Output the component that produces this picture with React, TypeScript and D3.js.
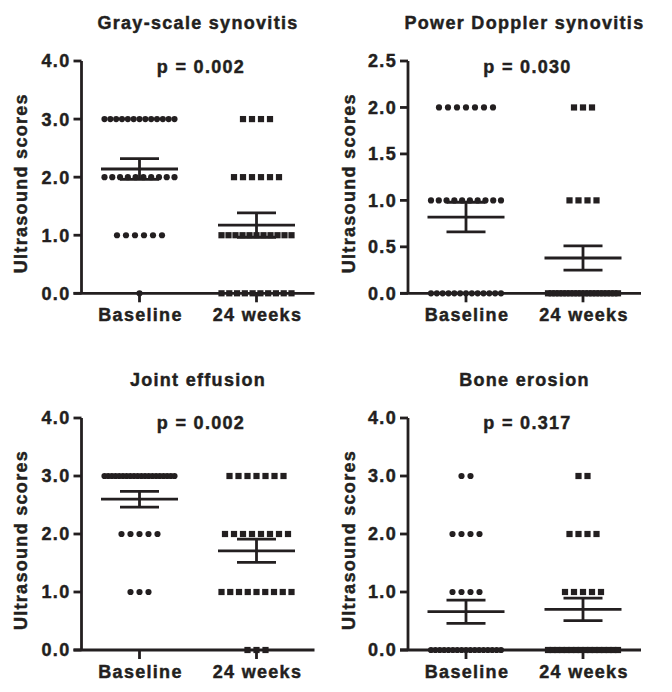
import React from "react";
import * as d3 from "d3";

const W = 672;
const H = 692;

const titles = ["Gray-scale synovitis", "Power Doppler synovitis", "Joint effusion", "Bone erosion"];
const pLabels = ["p = 0.002", "p = 0.030", "p = 0.002", "p = 0.317"];
const yMax = [4, 2.5, 4, 4];
const yStep = [1, 0.5, 1, 1];
const categories = ["Baseline", "24 weeks"];
const yLabel = "Ultrasound scores";

// number of patients at score 0, 1, 2, 3 ...
const baselineCounts = [
  [1, 6, 10, 13],
  [13, 10, 7],
  [0, 3, 5, 20],
  [17, 4, 4, 2],
];
const week24Counts = [
  [10, 11, 6, 4],
  [20, 4, 3],
  [3, 9, 8, 7],
  [16, 5, 4, 2],
];
const baselineMean = [2.14, 0.82, 2.6, 0.66];
const baselineSem = [0.18, 0.16, 0.135, 0.2];
const week24Mean = [1.175, 0.38, 1.71, 0.7];
const week24Sem = [0.21, 0.13, 0.2, 0.195];

const INK = "#231f20";
const FONT = "'Liberation Sans', Arial, sans-serif";

function Panel({ i }: { i: number }) {
  const col = i % 2;
  const row = Math.floor(i / 2);
  const axisX = col === 0 ? 81.5 : 408;
  const y0 = row === 0 ? 293.3 : 650;
  const yT = row === 0 ? 61 : 418;
  const xEnd = axisX + 233;
  const y = d3.scaleLinear().domain([0, yMax[i]]).range([y0, yT]);
  const x = d3.scalePoint<string>().domain(categories).range([axisX + 58, axisX + 175]);
  const ticks = d3.range(0, yMax[i] + 1e-9, yStep[i]);
  const fmt = d3.format(".1f");
  const midX = ((x(categories[0]) as number) + (x(categories[1]) as number)) / 2;
  const groups = [
    { counts: baselineCounts[i], mean: baselineMean[i], sem: baselineSem[i], shape: "circle" },
    { counts: week24Counts[i], mean: week24Mean[i], sem: week24Sem[i], shape: "square" },
  ];
  const textStyle = {
    fontFamily: FONT,
    fontWeight: 700,
    fontSize: 18,
    letterSpacing: 1.3,
    fill: INK,
    stroke: INK,
    strokeWidth: 0.45,
  } as any;
  const yLabelX = col === 0 ? 26.5 : 355;
  const yLabelY = (y0 + yT) / 2 + 6;
  const SW = 2.8;
  return (
    <g>
      <text x={midX} y={row === 0 ? 29 : 386} textAnchor="middle" style={textStyle}>{titles[i]}</text>
      <text x={midX + 3} y={row === 0 ? 72.5 : 428.5} textAnchor="middle" style={textStyle}>{pLabels[i]}</text>
      <text transform={`translate(${yLabelX},${yLabelY}) rotate(-90)`} textAnchor="middle" style={textStyle}>{yLabel}</text>
      {/* y axis */}
      <line x1={axisX} x2={axisX} y1={y(0)} y2={y(yMax[i])} stroke={INK} strokeWidth={SW} />
      {ticks.map((t) => (
        <g key={t}>
          <line x1={axisX - 8} x2={axisX} y1={y(t)} y2={y(t)} stroke={INK} strokeWidth={SW} />
          <text x={axisX - 11} y={y(t)} dy="0.36em" textAnchor="end" style={textStyle}>{fmt(t)}</text>
        </g>
      ))}
      {/* x axis */}
      <line x1={axisX - 8} x2={xEnd} y1={y0} y2={y0} stroke={INK} strokeWidth={SW} />
      {categories.map((c) => (
        <g key={c}>
          <line x1={x(c)} x2={x(c)} y1={y0} y2={y0 + 9} stroke={INK} strokeWidth={SW} />
          <text x={(x(c) as number) + 1} y={row === 0 ? 321 : 677.5} textAnchor="middle" style={textStyle}>{c}</text>
        </g>
      ))}
      {groups.map((g, gi) => {
        const cx = x(categories[gi]) as number;
        const pts: { px: number; py: number }[] = [];
        g.counts.forEach((n, score) => {
          if (n <= 0) return;
          const s = n > 1 ? Math.min(9, 70 / (n - 1)) : 0;
          for (let k = 0; k < n; k++) {
            pts.push({ px: cx + (k - (n - 1) / 2) * s, py: y(score) });
          }
        });
        return (
          <g key={gi}>
            {pts.map((p, k) =>
              g.shape === "circle" ? (
                <circle key={k} cx={p.px} cy={p.py} r={3.1} fill={INK} />
              ) : (
                <rect key={k} x={p.px - 3.1} y={p.py - 3.1} width={6.2} height={6.2} fill={INK} />
              )
            )}
            <line x1={cx - 38.5} x2={cx + 38.5} y1={y(g.mean)} y2={y(g.mean)} stroke={INK} strokeWidth={SW} />
            <line x1={cx} x2={cx} y1={y(g.mean - g.sem)} y2={y(g.mean + g.sem)} stroke={INK} strokeWidth={SW} />
            <line x1={cx - 19.5} x2={cx + 19.5} y1={y(g.mean + g.sem)} y2={y(g.mean + g.sem)} stroke={INK} strokeWidth={SW} />
            <line x1={cx - 19.5} x2={cx + 19.5} y1={y(g.mean - g.sem)} y2={y(g.mean - g.sem)} stroke={INK} strokeWidth={SW} />
          </g>
        );
      })}
    </g>
  );
}

export default function App() {
  return (
    <svg width={W} height={H} viewBox={`0 0 ${W} ${H}`} style={{ display: "block", position: "absolute", left: 0, top: 0, background: "#fff" }}>
      <rect width={W} height={H} fill="#fff" />
      {[0, 1, 2, 3].map((i) => (
        <Panel key={i} i={i} />
      ))}
    </svg>
  );
}
